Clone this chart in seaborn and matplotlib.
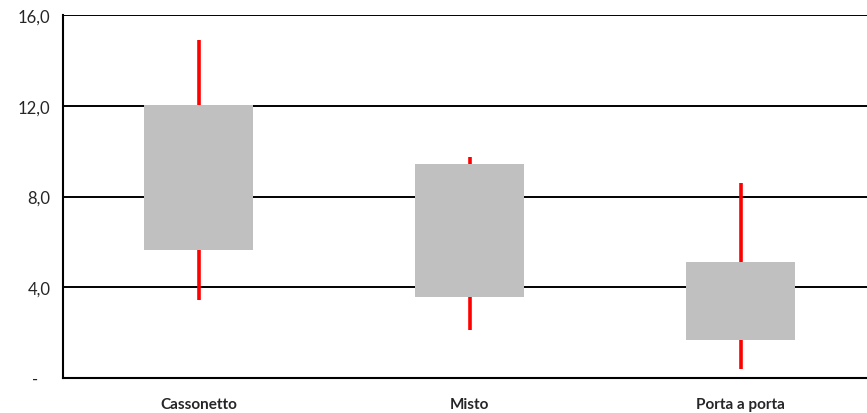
import matplotlib
matplotlib.use("Agg")
import matplotlib.pyplot as plt
import seaborn as sns
import pandas as pd

categories = ["Cassonetto", "Misto", "Porta a porta"]
whisker_low = [3.45, 2.1, 0.38]
box_low = [5.66, 3.58, 1.68]
box_high = [12.04, 9.44, 5.11]
whisker_high = [14.9, 9.76, 8.6]
ytick_values = [0, 4, 8, 12, 16]
ytick_labels = ["-   ", "4,0", "8,0", "12,0", "16,0"]

sns.set_theme(style="white")
plt.rcParams["font.family"] = ["Lato", "DejaVu Sans"]

W, H = 867, 414
fig = plt.figure(figsize=(W / 100, H / 100), dpi=100)
ax = fig.add_axes([63 / W, 1 - 379 / H, 813 / W, (379 - 16) / H])

df = pd.DataFrame({
    "cat": categories,
    "height": [h - l for h, l in zip(box_high, box_low)],
    "low": box_low,
})

# whiskers (behind boxes)
ax.vlines(range(len(categories)), whisker_low, whisker_high, color="#FF0000", lw=2.6, zorder=2)

sns.barplot(data=df, x="cat", y="height", bottom=df["low"], color="#C0C0C0",
            width=0.4, saturation=1, ax=ax, zorder=3, linewidth=0)

ax.set_xlim(-0.5, 2.5)
ax.set_ylim(0, 16)
ax.set_yticks(ytick_values)
ax.set_yticklabels(ytick_labels, fontsize=12)
for y in ytick_values[1:]:
    ax.axhline(y, color="black", lw=1.4, zorder=1)

ax.set_xticks([-0.5, 0.5, 1.5, 2.5])
ax.set_xticklabels([])
ax.set_xticks(range(len(categories)), minor=True)
ax.set_xticklabels(categories, minor=True, fontsize=11, fontweight="bold")
ax.tick_params(axis="x", which="minor", length=0, pad=14)
ax.tick_params(axis="x", which="major", direction="inout", length=8, width=1, color="black")
ax.tick_params(axis="y", direction="inout", length=6, width=1, color="black", pad=6)

ax.set_xlabel("")
ax.set_ylabel("")
for s in ["top", "right"]:
    ax.spines[s].set_visible(False)
for s in ["left", "bottom"]:
    ax.spines[s].set_color("black")
    ax.spines[s].set_linewidth(1.5)
ax.spines["bottom"].set_zorder(5)

fig.savefig("out.png", dpi=100)
